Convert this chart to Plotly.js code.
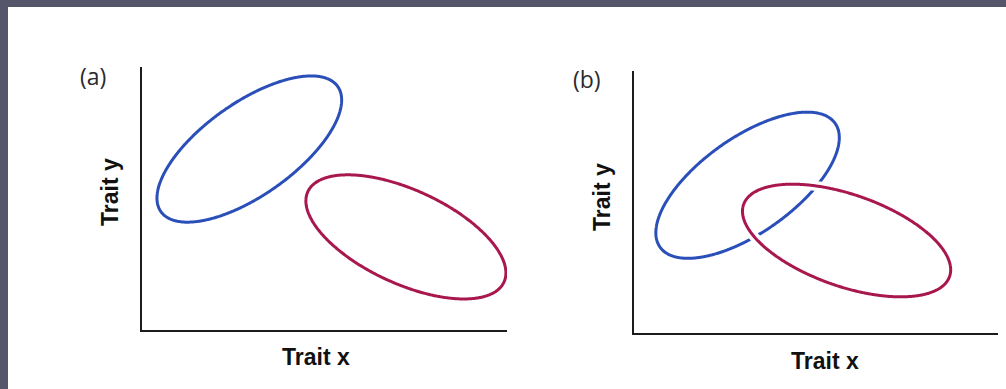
<!DOCTYPE html>
<html>
<head>
<meta charset="utf-8">
<script src="https://cdn.plot.ly/plotly-3.0.1.min.js"></script>
<style>
  html, body { margin: 0; padding: 0; background: #ffffff; }
  #chart { width: 1006px; height: 389px; }
</style>
</head>
<body>
<div id="chart"></div>
<script>
// Trait distributions of two groups, drawn as outline ellipses on Trait x / Trait y.
// Each ellipse: centre (cx, cy), half-width and half-height of its bounding box,
// and the correlation of the two traits (sets the tilt).
const panels = ['(a)', '(b)'];
const axisTitleX = 'Trait x';
const axisTitleY = 'Trait y';

// panel (a): separated groups
const blueA = { cx: 2.94, cy: 6.88, halfW: 2.53, halfH: 2.78, corr: 0.67 };
const redA  = { cx: 7.23, cy: 3.54, halfW: 2.74, halfH: 2.36, corr: -0.58 };

// panel (b): overlapping groups
const blueB = { cx: 3.12, cy: 5.64, halfW: 2.52, halfH: 2.79, corr: 0.65 };
const redB  = { cx: 5.84, cy: 3.53, halfW: 2.86, halfH: 2.15, corr: -0.52 };

const BLUE = '#2a4fb8';
const RED = '#a8184e';

function ellipse(e, n) {
  const phi = Math.acos(e.corr);
  const xs = [], ys = [];
  for (let i = 0; i <= n; i++) {
    const t = 2 * Math.PI * i / n;
    xs.push(e.cx + e.halfW * Math.cos(t));
    ys.push(e.cy + e.halfH * Math.cos(t - phi));
  }
  return { x: xs, y: ys };
}

function outline(e, xa, ya, color, width) {
  const p = ellipse(e, 360);
  return {
    type: 'scatter', mode: 'lines', x: p.x, y: p.y,
    xaxis: xa, yaxis: ya, hoverinfo: 'skip', showlegend: false,
    line: { color: color, width: width, shape: 'spline', smoothing: 0.3 }
  };
}

const traces = [
  outline(blueA, 'x', 'y', BLUE, 3),
  outline(redA, 'x', 'y', '#ffffff', 10),
  outline(redA, 'x', 'y', RED, 3),
  outline(blueB, 'x2', 'y2', BLUE, 3),
  // white under-stroke so the red outline appears to pass over the blue one
  outline(redB, 'x2', 'y2', '#ffffff', 10),
  outline(redB, 'x2', 'y2', RED, 3)
];

const W = 1006, H = 389;
const fx = px => px / W;
const fy = py => 1 - py / H;

function axis(domain) {
  return {
    domain: domain, range: [0, 10], fixedrange: true,
    showline: true, linecolor: '#1c1c1c', linewidth: 2,
    showgrid: false, zeroline: false, showticklabels: false, ticks: ''
  };
}

const labelFont = { family: 'Liberation Sans, Arial, sans-serif', size: 23, color: '#111111', weight: 'bold' };
const tagFont = { family: 'Open Sans, DejaVu Sans, sans-serif', size: 23, color: '#2a2a2a' };

const layout = {
  width: W, height: H,
  margin: { l: 0, r: 0, t: 0, b: 0 },
  paper_bgcolor: '#ffffff', plot_bgcolor: 'rgba(0,0,0,0)',
  showlegend: false,
  xaxis:  Object.assign(axis([fx(142), fx(507)]), { anchor: 'y' }),
  yaxis:  Object.assign(axis([fy(330), fy(67)]), { anchor: 'x' }),
  xaxis2: Object.assign(axis([fx(634), fx(998)]), { anchor: 'y2' }),
  yaxis2: Object.assign(axis([fy(333), fy(71)]), { anchor: 'x2' }),
  shapes: [
    { type: 'rect', xref: 'paper', yref: 'paper', x0: 0, x1: 1, y0: fy(7), y1: 1,
      fillcolor: '#55566a', line: { width: 0 }, layer: 'below' },
    { type: 'rect', xref: 'paper', yref: 'paper', x0: 0, x1: fx(8), y0: 0, y1: 1,
      fillcolor: '#55566a', line: { width: 0 }, layer: 'below' }
  ],
  annotations: [
    { text: panels[0], xref: 'paper', yref: 'paper', x: fx(93), y: fy(76),
      xanchor: 'center', yanchor: 'middle', showarrow: false, font: tagFont },
    { text: panels[1], xref: 'paper', yref: 'paper', x: fx(587), y: fy(79),
      xanchor: 'center', yanchor: 'middle', showarrow: false, font: tagFont },
    { text: axisTitleX, xref: 'paper', yref: 'paper', x: fx(316), y: fy(357),
      xanchor: 'center', yanchor: 'middle', showarrow: false, font: labelFont },
    { text: axisTitleX, xref: 'paper', yref: 'paper', x: fx(825), y: fy(361),
      xanchor: 'center', yanchor: 'middle', showarrow: false, font: labelFont },
    { text: axisTitleY, xref: 'paper', yref: 'paper', x: fx(110), y: fy(192),
      xanchor: 'center', yanchor: 'middle', showarrow: false, textangle: -90, font: labelFont },
    { text: axisTitleY, xref: 'paper', yref: 'paper', x: fx(602), y: fy(197),
      xanchor: 'center', yanchor: 'middle', showarrow: false, textangle: -90, font: labelFont }
  ]
};

Plotly.newPlot('chart', traces, layout, { displayModeBar: false, staticPlot: true });
</script>
</body>
</html>
